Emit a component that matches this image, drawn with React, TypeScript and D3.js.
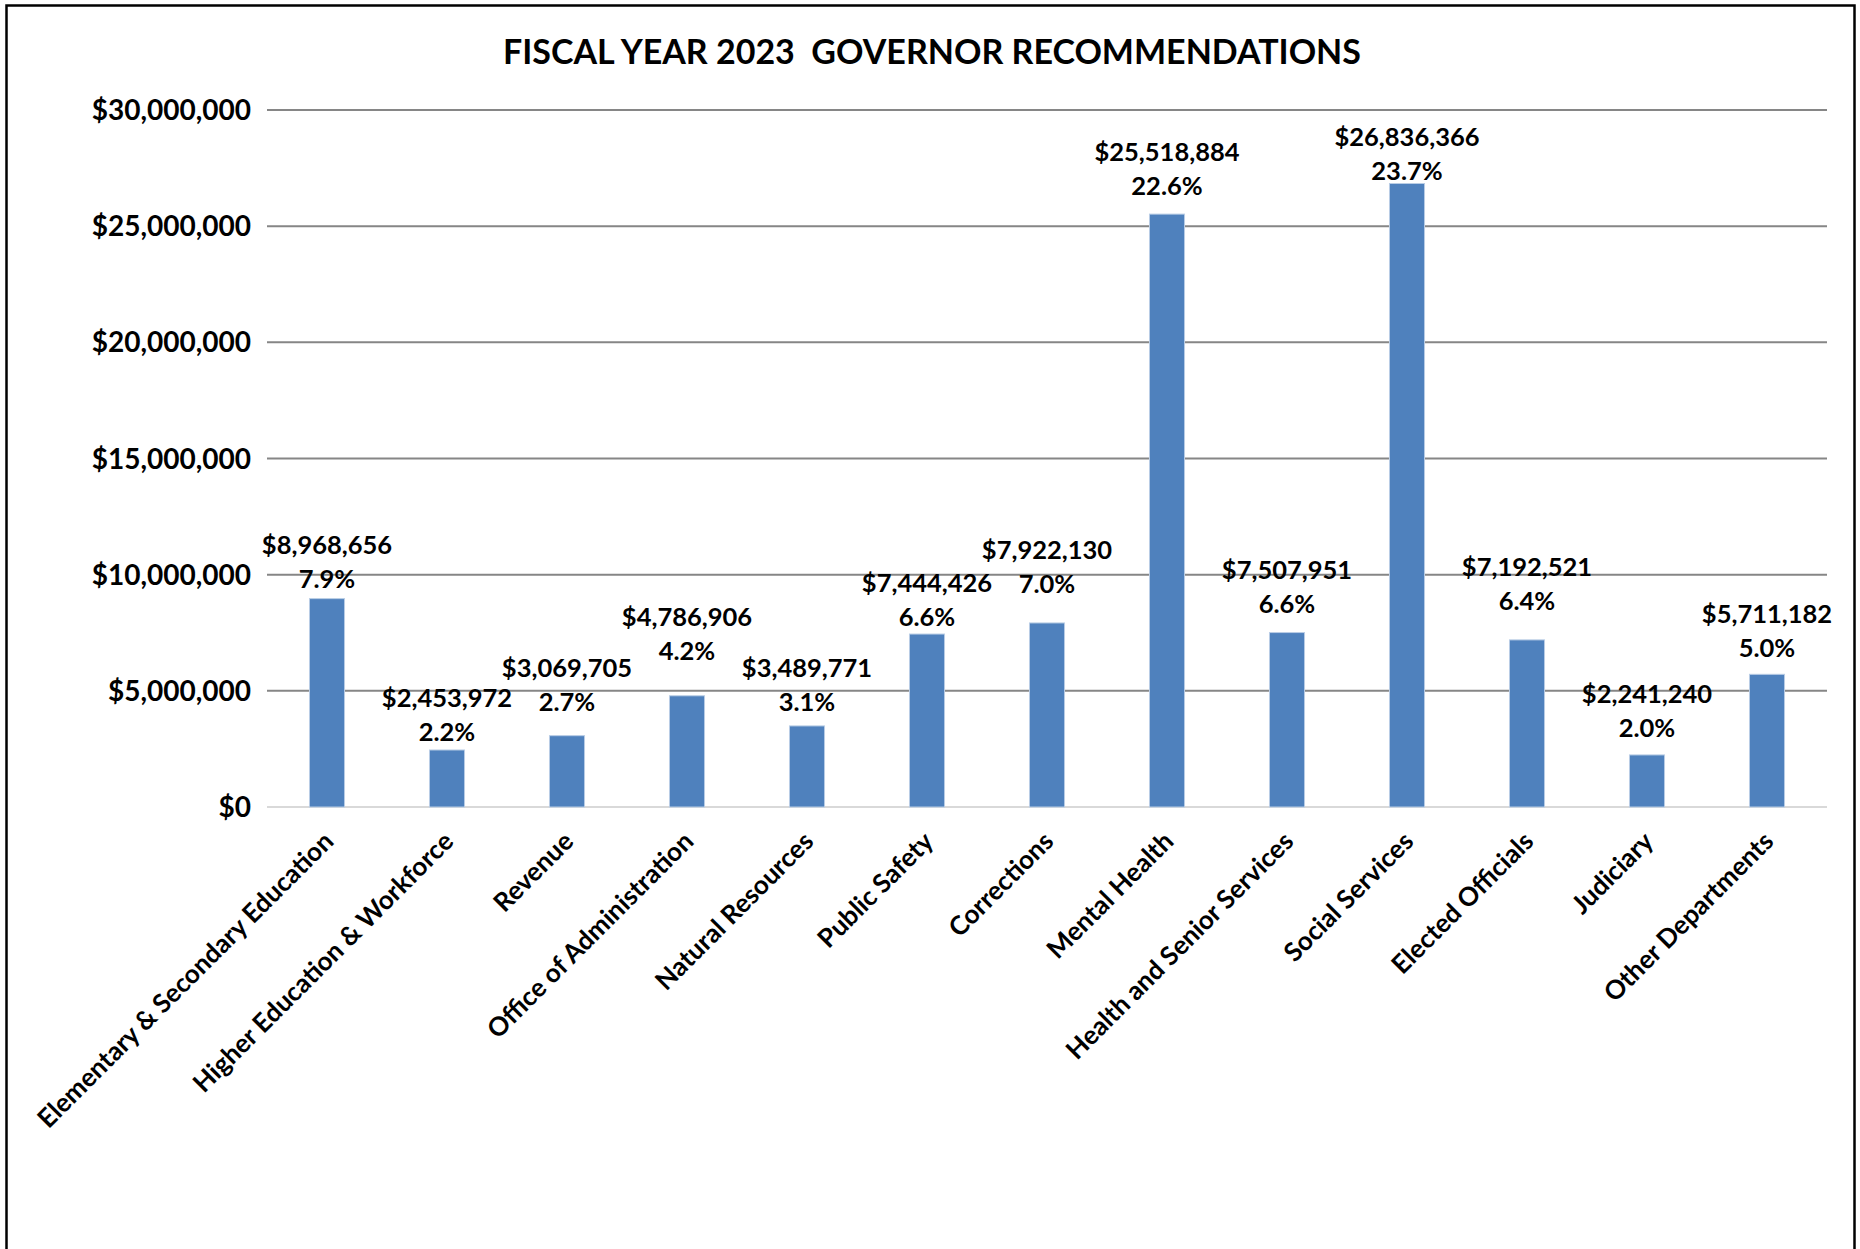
import React from "react";
import * as d3 from "d3";

const categories = [
  "Elementary & Secondary Education",
  "Higher Education & Workforce",
  "Revenue",
  "Office of Administration",
  "Natural Resources",
  "Public Safety",
  "Corrections",
  "Mental Health",
  "Health and Senior Services",
  "Social Services",
  "Elected Officials",
  "Judiciary",
  "Other Departments",
];

const amounts = [
  8968656, 2453972, 3069705, 4786906, 3489771, 7444426, 7922130, 25518884,
  7507951, 26836366, 7192521, 2241240, 5711182,
];

const percents = [
  "7.9%", "2.2%", "2.7%", "4.2%", "3.1%", "6.6%", "7.0%", "22.6%", "6.6%",
  "23.7%", "6.4%", "2.0%", "5.0%",
];

const yTicks = [0, 5000000, 10000000, 15000000, 20000000, 25000000, 30000000];

// layout: how far (px) each value label sits above its bar top
const labelLift = [54, 52, 68, 79, 58, 51, 73, 62, 63, 47, 73, 61, 60];

const W = 1860;
const H = 1249;
const FONT = "Lato, 'Open Sans', sans-serif";

export default function App() {
  const x = d3
    .scaleBand<string>()
    .domain(categories)
    .range([267, 1827])
    .paddingInner(0.708)
    .paddingOuter(0.354);
  const y = d3.scaleLinear().domain([0, 30000000]).range([807, 110]);
  const money = d3.format("$,.0f");

  return (
    <svg
      width={W}
      height={H}
      style={{ position: "absolute", left: 0, top: 0, display: "block", background: "#fff" }}
    >
      <rect x={0} y={0} width={W} height={H} fill="#fff" />
      <rect x={6.5} y={5.5} width={1848} height={1400} fill="none" stroke="#000" strokeWidth={2.5} />
      <text
        x={932}
        y={52}
        dy="0.36em"
        textAnchor="middle"
        fontFamily={FONT}
        fontWeight={700}
        fontSize={34}
        fill="#000"
        style={{ whiteSpace: "pre" }}
      >
        {"FISCAL YEAR 2023  GOVERNOR RECOMMENDATIONS"}
      </text>
      {yTicks.map((t) => (
        <g key={t}>
          <line
            x1={267}
            x2={1827}
            y1={y(t)}
            y2={y(t)}
            stroke={t === 0 ? "#d9d9d9" : "#868686"}
            strokeWidth={2}
          />
          <text
            x={251}
            y={y(t)}
            dy="0.36em"
            textAnchor="end"
            fontFamily={FONT}
            fontWeight={700}
            fontSize={28}
            fill="#000"
          >
            {money(t)}
          </text>
        </g>
      ))}
      {categories.map((c, i) => {
        const bx = x(c) as number;
        const bw = x.bandwidth();
        const top = y(amounts[i]);
        const cx = bx + bw / 2;
        const vy = top - labelLift[i];
        return (
          <g key={c}>
            <rect
              x={bx}
              y={top}
              width={bw}
              height={y(0) - top}
              fill="#4f81bd"
              stroke="#b9cde5"
              strokeWidth={1}
            />
            <text
              x={cx}
              y={vy}
              dy="0.36em"
              textAnchor="middle"
              fontFamily={FONT}
              fontWeight={700}
              fontSize={25.5}
              fill="#000"
            >
              {money(amounts[i])}
            </text>
            <text
              x={cx}
              y={vy + 34}
              dy="0.36em"
              textAnchor="middle"
              fontFamily={FONT}
              fontWeight={700}
              fontSize={25.5}
              fill="#000"
            >
              {percents[i]}
            </text>
            <text
              transform={`translate(${cx + 8},${843}) rotate(-45)`}
              textAnchor="end"
              fontFamily={FONT}
              fontWeight={700}
              fontSize={26}
              fill="#000"
            >
              {c}
            </text>
          </g>
        );
      })}
    </svg>
  );
}
